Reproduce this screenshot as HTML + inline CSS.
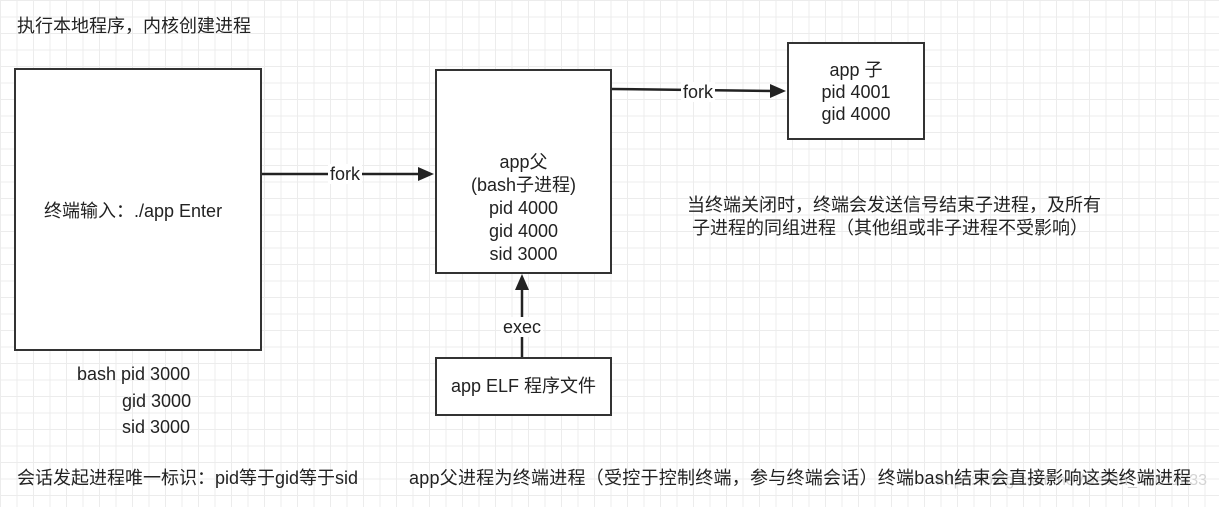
<!DOCTYPE html>
<html><head><meta charset="utf-8"><style>
html,body{margin:0;padding:0}
body{width:1219px;height:507px;position:relative;overflow:hidden;background:#fff;
background-image:linear-gradient(#ececec 1px,transparent 1px),linear-gradient(90deg,#ececec 1px,transparent 1px);
background-size:16.5px 16.5px;font-family:"Liberation Sans","Noto Sans CJK SC",sans-serif;color:#222;font-size:18px}
.t{position:absolute;white-space:nowrap;line-height:22px}
.box{position:absolute;border:2px solid #333;background:#fff;box-sizing:border-box}
.c{text-align:center}
.lbl{position:absolute;background:#fff;padding:0 2px;line-height:20px}
</style></head><body>
<div class="t" style="left:936px;top:470px;color:#d4d4d4;font-size:16px">https://blog.csdn.net/weixin_43811333</div>
<div class="t" style="left:17px;top:15px">执行本地程序，内核创建进程</div>

<div class="box" style="left:14px;top:68px;width:248px;height:283px"></div>
<div class="t" style="left:44px;top:200px">终端输入：./app Enter</div>

<div class="box" style="left:435px;top:69px;width:177px;height:205px"></div>
<div class="t c" style="left:435px;top:151px;width:177px;line-height:23px">app父<br>(bash子进程)<br>pid 4000<br>gid 4000<br>sid 3000</div>

<div class="box" style="left:787px;top:42px;width:138px;height:98px"></div>
<div class="t c" style="left:787px;top:59px;width:138px;line-height:22px">app 子<br>pid 4001<br>gid 4000</div>

<div class="box" style="left:435px;top:357px;width:177px;height:59px"></div>
<div class="t c" style="left:435px;top:375px;width:177px">app ELF 程序文件</div>

<svg style="position:absolute;left:0;top:0" width="1219" height="507">
<g stroke="#222" stroke-width="2.5" fill="#222">
<line x1="262" y1="174" x2="424" y2="174"/><polygon points="434,174 418,167 418,181" stroke="none"/>
<line x1="612" y1="89" x2="776" y2="91"/><polygon points="786,91 770,84 770,98" stroke="none"/>
<line x1="522" y1="357" x2="522" y2="284"/><polygon points="522,274 515,290 529,290" stroke="none"/>
</g></svg>
<div class="lbl" style="left:328px;top:164px">fork</div>
<div class="lbl" style="left:681px;top:82px">fork</div>
<div class="lbl" style="left:501px;top:317px">exec</div>

<div class="t" style="left:687px;top:194px;line-height:23px">当终端关闭时，终端会发送信号结束子进程，及所有<br>&nbsp;子进程的同组进程（其他组或非子进程不受影响）</div>

<div class="t" style="left:77px;top:361px;line-height:26.5px">bash pid 3000<br>&nbsp;&nbsp;&nbsp;&nbsp;&nbsp;&nbsp;&nbsp;&nbsp;&nbsp;gid 3000<br>&nbsp;&nbsp;&nbsp;&nbsp;&nbsp;&nbsp;&nbsp;&nbsp;&nbsp;sid 3000</div>

<div class="t" style="left:17px;top:467px">会话发起进程唯一标识：pid等于gid等于sid</div>
<div class="t" style="left:409px;top:467px;letter-spacing:0.25px">app父进程为终端进程（受控于控制终端，参与终端会话）终端bash结束会直接影响这类终端进程</div>
</body></html>
